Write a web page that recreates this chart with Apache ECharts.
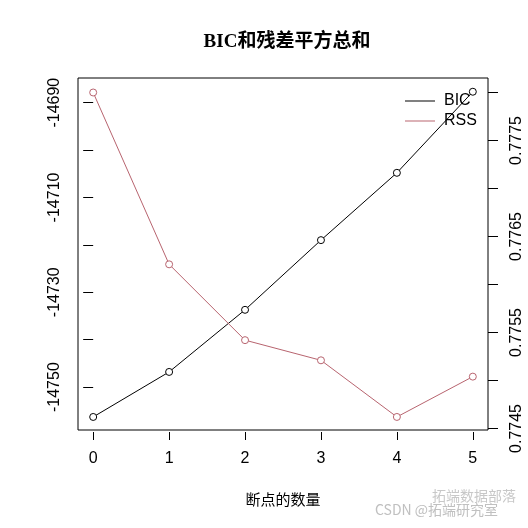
<!DOCTYPE html>
<html>
<head>
<meta charset="utf-8">
<script src="https://cdn.jsdelivr.net/npm/echarts@6/dist/echarts.min.js"></script>
<style>html,body{margin:0;padding:0;background:#fff}#c{width:528px;height:528px}</style>
</head>
<body>
<div id="c"></div>
<script>
// ---- data ----
const breakpoints = [0, 1, 2, 3, 4, 5];
const bicValues = [-14756.3, -14746.8, -14733.7, -14719.0, -14704.8, -14687.7];
const rssValues = [0.77800, 0.77621, 0.77542, 0.77521, 0.77462, 0.77504];
const xTicks = [0, 1, 2, 3, 4, 5];
const bicTicks = [-14750, -14740, -14730, -14720, -14710, -14700, -14690];
const bicLabels = [-14750, -14730, -14710, -14690];
const rssTicks = [0.7745, 0.7750, 0.7755, 0.7760, 0.7765, 0.7770, 0.7775, 0.7780];
const rssLabels = [0.7745, 0.7755, 0.7765, 0.7775];
const titleText = 'BIC和残差平方总和';
const xName = '断点的数量';

const sans = '"Liberation Sans", Arial, sans-serif';
const rssColor = '#B8646F';

const chart = echarts.init(document.getElementById('c'), null, {renderer: 'canvas'});
chart.setOption({
  animation: false,
  backgroundColor: '#fff',
  legend: {
    orient: 'vertical', left: 400, top: 88, itemWidth: 30, itemHeight: 1, itemGap: 4,
    icon: 'rect',
    textStyle: {fontSize: 16, fontFamily: sans, color: '#000', lineHeight: 16, padding: [0, 0, 0, 4]},
    data: [{name: 'BIC', itemStyle: {color: '#000', borderWidth: 0}}, {name: 'RSS', itemStyle: {color: rssColor, borderWidth: 0}}]
  },
  grid: {left: 78, right: 40, top: 78, bottom: 98, show: true, borderColor: '#000', borderWidth: 1, backgroundColor: 'transparent'},
  xAxis: {
    type: 'value', min: -0.2, max: 5.2, offset: 2,
    name: xName, nameLocation: 'middle', nameGap: 60,
    nameTextStyle: {fontSize: 15, color: '#000', fontFamily: '"Noto Sans CJK SC", sans-serif'},
    axisLine: {show: false},
    axisTick: {show: true, length: 8, customValues: xTicks, lineStyle: {color: '#000'}},
    axisLabel: {customValues: xTicks, fontSize: 16, color: '#000', fontFamily: sans, margin: 19},
    splitLine: {show: false}
  },
  yAxis: [
    {
      type: 'value', position: 'left', min: -14759.05, max: -14684.8,
      axisLine: {show: false},
      axisTick: {show: true, length: 10, customValues: bicTicks, lineStyle: {color: '#000'}},
      axisLabel: {customValues: bicLabels, rotate: 90, fontSize: 16, color: '#000', fontFamily: sans, margin: 15,
        formatter: v => String(v)},
      splitLine: {show: false}
    },
    {
      type: 'value', position: 'right', min: 0.774484, max: 0.778151,
      axisLine: {show: false},
      axisTick: {show: true, length: 10, customValues: rssTicks, lineStyle: {color: '#000'}},
      axisLabel: {customValues: rssLabels, rotate: 90, fontSize: 16, color: '#000', fontFamily: sans, margin: 21,
        formatter: v => v.toFixed(4)},
      splitLine: {show: false}
    }
  ],
  series: [
    {
      name: 'BIC', type: 'line', yAxisIndex: 0,
      data: breakpoints.map((x, i) => [x, bicValues[i]]),
      symbol: 'circle', symbolSize: 7,
      lineStyle: {color: '#000', width: 1},
      itemStyle: {color: '#fff', borderColor: '#000', borderWidth: 1}
    },
    {
      name: 'RSS', type: 'line', yAxisIndex: 1,
      data: breakpoints.map((x, i) => [x, rssValues[i]]),
      symbol: 'circle', symbolSize: 7,
      lineStyle: {color: rssColor, width: 1},
      itemStyle: {color: '#fff', borderColor: rssColor, borderWidth: 1}
    }
  ],
  graphic: [
    {type: 'text', x: 287, y: 33, style: {text: titleText, align: 'center', fontSize: 19, fontWeight: 'bold', fill: '#000', fontFamily: '"Liberation Serif", "Noto Sans CJK SC", serif'}},
    {type: 'text', left: 432, top: 489, style: {text: '拓端数据部落', fontSize: 14, fill: '#c8c8c8', fontFamily: '"Noto Sans CJK SC", sans-serif'}},
    {type: 'text', left: 375, top: 503, style: {text: 'CSDN @拓端研究室', fontSize: 14, fill: '#c0c0c0', fontFamily: '"Noto Sans CJK SC", sans-serif'}}
  ]
});
</script>
</body>
</html>
